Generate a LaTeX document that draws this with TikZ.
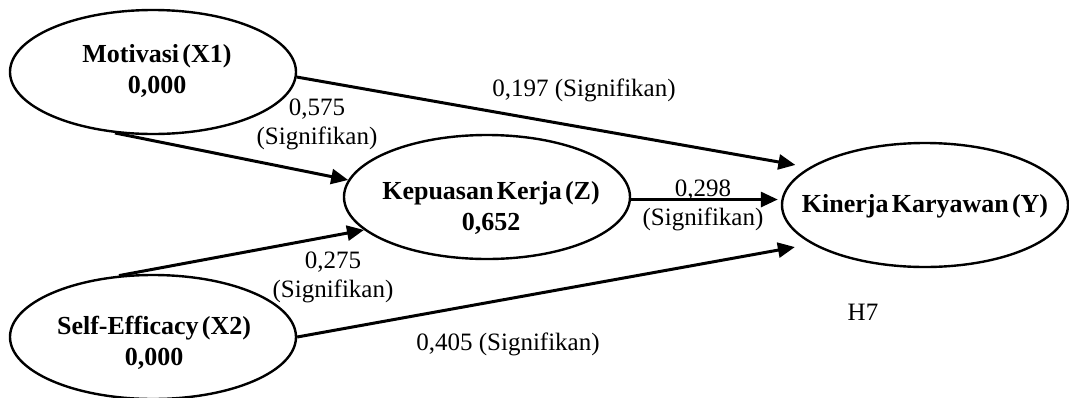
\documentclass[tikz,border=0pt]{standalone}
\usepackage{fontspec}
\setmainfont{Liberation Serif}
\newfontfamily\varfont{Liberation Serif}[WordSpace=0.5]
\usetikzlibrary{shapes.geometric,arrows.meta}
\begin{document}
\begin{tikzpicture}[x=1pt,y=-1pt,
  var/.style={ellipse,draw,line width=2.4pt,minimum width=286pt,minimum height=124pt,inner sep=0pt},
  vartext/.style={align=center,inner sep=0pt,font=\varfont\fontsize{26}{30.5}\selectfont\bfseries},
  link/.style={line width=3pt,-{Triangle[length=17pt,width=15pt]}},
  lbl/.style={align=center,inner sep=0pt,font=\fontsize{25}{29}\selectfont}
]
\useasboundingbox (0,0) rectangle (1069,397);

% latent variables
\node[var] (mot) at (153,72) {};
\node[var] (kep) at (487,197) {};
\node[var] (se)  at (153,337) {};
\node[var] (kin) at (925,205) {};

\node[vartext] (motT) at (157,71)  {Motivasi (X1)\\0,000};
\node[vartext] (kepT) at (491,208) {Kepuasan Kerja (Z)\\0,652};
\node[vartext] (seT)  at (154,343) {Self-Efficacy (X2)\\0,000};
\node[vartext] (kinT) at (925,206) {Kinerja Karyawan (Y)};

% paths
\draw[link,shorten >=14pt] (mot.-2) -- (kin.162);
\draw[link] (mot.238) -- (kep.173);
\draw[link] (se.119) -- (kep.195);
\draw[link,shorten >=3pt] (kep.-1) -- (kep.-1 -| kin.west);
\draw[link,shorten >=17pt] (se.east) -- (kin.199);

% path coefficients
\node[lbl] (l1) at (584,90.5) {0,197 (Signifikan)};
\node[lbl] (l2) at (317,124) {0,575\\(Signifikan)};
\node[lbl] (l3) at (333,277) {0,275\\(Signifikan)};
\node[lbl] (l4) at (703,205) {0,298\\(Signifikan)};
\node[lbl] (l5) at (508,344) {0,405 (Signifikan)};
\node[lbl] (h7) at (863,312) {H7};
\end{tikzpicture}
\end{document}
